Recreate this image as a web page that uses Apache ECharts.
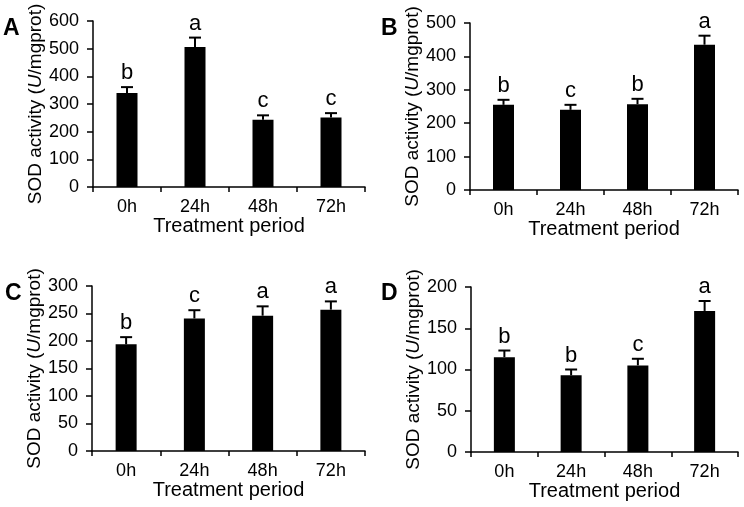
<!DOCTYPE html>
<html>
<head>
<meta charset="utf-8">
<script src="https://cdn.jsdelivr.net/npm/echarts@6/dist/echarts.min.js"></script>
<style>
  html, body { margin: 0; padding: 0; background: #fff; }
  #chart { width: 744px; height: 507px; }
</style>
</head>
<body>
<div id="chart"></div>
<script>
const categories = ['0h', '24h', '48h', '72h']

const meanA = [340, 506, 243, 251]
const errA = [21, 34, 16, 16]
const letterA = ['b', 'a', 'c', 'c']

const meanB = [255, 240, 257, 435]
const errB = [15, 15, 16, 27]
const letterB = ['b', 'c', 'b', 'a']

const meanC = [194, 241, 246, 257]
const errC = [13, 15, 17, 15]
const letterC = ['b', 'c', 'a', 'a']

const meanD = [115, 93, 105, 171]
const errD = [8, 7, 8, 12]
const letterD = ['b', 'b', 'c', 'a']

const yMax = [600, 500, 300, 200]
const yStep = [100, 100, 50, 50]
const panelNames = ['A', 'B', 'C', 'D']

const FONT = 'Liberation Sans, Arial, sans-serif'

const panels = [
  { mean: meanA, err: errA, letters: letterA },
  { mean: meanB, err: errB, letters: letterB },
  { mean: meanC, err: errC, letters: letterC },
  { mean: meanD, err: errD, letters: letterD }
]

const grids = [
  { left: 93, top: 21, width: 272, height: 166 },
  { left: 470, top: 23, width: 268, height: 167 },
  { left: 92, top: 286, width: 273, height: 165 },
  { left: 471, top: 287, width: 267, height: 165 }
]

const panelLabelPos = [[3, 29], [381, 29], [5, 294], [381, 294]]

function errorItem(letters) {
  return function(params, api) {
    const x = api.value(0)
    const top = api.coord([x, api.value(1) + api.value(2)])
    const base = api.coord([x, api.value(1)])
    const half = 6
    return {
      type: 'group',
      children: [
        {
          type: 'line',
          shape: { x1: base[0], y1: base[1], x2: top[0], y2: top[1] },
          style: { stroke: '#000', lineWidth: 2 }
        },
        {
          type: 'line',
          shape: { x1: top[0] - half, y1: top[1], x2: top[0] + half, y2: top[1] },
          style: { stroke: '#000', lineWidth: 2 }
        },
        {
          type: 'text',
          x: top[0],
          y: top[1] - 3,
          style: {
            text: letters[params.dataIndex],
            font: '22px ' + FONT,
            fill: '#000',
            align: 'center',
            verticalAlign: 'bottom'
          }
        }
      ]
    }
  }
}

const xAxes = []
const yAxes = []
const series = []

panels.forEach(function(p, i) {
  xAxes.push({
    type: 'category',
    gridIndex: i,
    data: categories,
    name: 'Treatment period',
    nameLocation: 'middle',
    nameGap: 29,
    nameTextStyle: { color: '#000', fontSize: 20, fontFamily: FONT },
    axisLine: { lineStyle: { color: '#000', width: 1.5 } },
    axisTick: { show: true, length: 5, lineStyle: { color: '#000', width: 1.5 } },
    axisLabel: { color: '#000', fontSize: 18, fontFamily: FONT, margin: 11 }
  })
  yAxes.push({
    type: 'value',
    gridIndex: i,
    min: 0,
    max: yMax[i],
    interval: yStep[i],
    name: '{n|SOD activity (}{u|U}{n|/mgprot)}',
    nameLocation: 'middle',
    nameGap: 48,
    nameTextStyle: {
      rich: {
        n: { color: '#000', fontSize: 19, fontFamily: FONT },
        u: { color: '#000', fontSize: 19, fontFamily: FONT, fontStyle: 'italic' }
      }
    },
    splitLine: { show: false },
    axisLine: { show: true, lineStyle: { color: '#000', width: 1.5 } },
    axisTick: { show: true, length: 6, lineStyle: { color: '#000', width: 1.5 } },
    axisLabel: { color: '#000', fontSize: 18, fontFamily: FONT, margin: 14 }
  })
  series.push({
    type: 'bar',
    xAxisIndex: i,
    yAxisIndex: i,
    barWidth: 21,
    itemStyle: { color: '#000' },
    data: p.mean
  })
  series.push({
    type: 'custom',
    xAxisIndex: i,
    yAxisIndex: i,
    renderItem: errorItem(p.letters),
    data: p.mean.map(function(v, k) { return [k, v, p.err[k]] }),
    z: 3
  })
})

const chart = echarts.init(document.getElementById('chart'))
chart.setOption({
  animation: false,
  backgroundColor: '#fff',
  textStyle: { fontFamily: FONT },
  grid: grids,
  xAxis: xAxes,
  yAxis: yAxes,
  series: series,
  graphic: panelNames.map(function(name, i) {
    return {
      type: 'text',
      x: panelLabelPos[i][0],
      y: panelLabelPos[i][1],
      style: {
        text: name,
        font: 'bold 23px ' + FONT,
        fill: '#000',
        verticalAlign: 'middle'
      }
    }
  })
})
</script>
</body>
</html>
